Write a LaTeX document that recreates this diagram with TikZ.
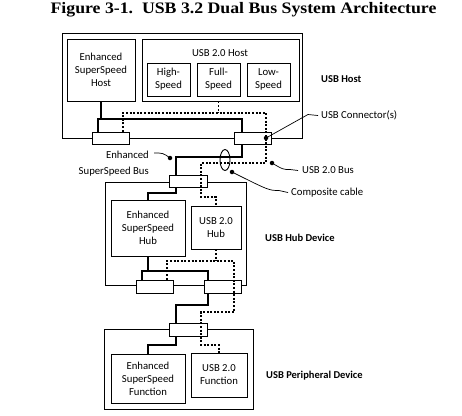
\documentclass[tikz,border=0pt]{standalone}
\usepackage{graphicx}
\usepackage{fontspec}
\setmainfont{Carlito}
\newfontfamily\titlefont{Liberation Serif}
\usetikzlibrary{positioning}
\usetikzlibrary{shapes.geometric}
\tikzset{
  box/.style={draw, line width=0.9pt, inner sep=0pt, align=center, font=\fontsize{10.7}{13}\selectfont},
  conn/.style={draw, fill=white, line width=0.9pt, inner sep=0pt, minimum width=37pt, minimum height=12pt},
  ssline/.style={line width=1.7pt},
  hsline/.style={line width=1.5pt, dash pattern=on 2pt off 1.6pt},
  leader/.style={line width=0.7pt},
  dot/.style={circle, fill, inner sep=0pt, minimum size=4.5pt},
  txt/.style={font=\fontsize{10.7}{13}\selectfont, inner sep=0pt},
  btxt/.style={font=\bfseries\fontsize{10.5}{13}\selectfont, inner sep=0pt},
}

\begin{document}
\begin{tikzpicture}[x=1pt,y=-1pt]
\useasboundingbox (0,0) rectangle (462,415);
\node[font=\titlefont\bfseries\fontsize{16}{18}\selectfont, inner sep=0pt] (title) at (243.5,10) {\scalebox{1.11}[1]{Figure 3-1.\ \ USB 3.2 Dual Bus System Architecture}};

% USB host
\node[box, minimum width=240pt, minimum height=105pt] (host) at (182,85.5) {};
\node[box, minimum width=68pt, minimum height=62pt] (esshost) at (101,70) {Enhanced\\SuperSpeed\\Host};
\node[box, minimum width=157pt, minimum height=62pt] (usb2host) at (220.5,70) {};
\node[txt] (usb2hostlbl) at (220,53) {USB 2.0 Host};
\node[box, minimum width=43pt, minimum height=33pt] (hispeed) at (168.5,79.5) {High-\\Speed};
\node[box, minimum width=43pt, minimum height=33pt] (fullspeed) at (218.5,79.5) {Full-\\Speed};
\node[box, minimum width=43pt, minimum height=33pt] (lowspeed) at (268.5,79.5) {Low-\\Speed};

% USB hub
\node[box, minimum width=141pt, minimum height=103pt] (hub) at (175.5,233.5) {};
\node[box, minimum width=74pt, minimum height=56pt] (esshub) at (148,228) {Enhanced\\SuperSpeed\\Hub};
\node[box, minimum width=50pt, minimum height=43pt] (usb2hub) at (216,227.5) {USB 2.0\\Hub};

% USB peripheral
\node[box, minimum width=149pt, minimum height=80pt] (periph) at (178.5,369) {};
\node[box, minimum width=74pt, minimum height=49pt] (essfn) at (148,378.5) {Enhanced\\SuperSpeed\\Function};
\node[box, minimum width=56pt, minimum height=44pt] (usb2fn) at (219,375) {USB 2.0\\Function};

% bends
\coordinate (sbL) at (98,119);
\coordinate (sbR) at (242,119);
\coordinate (cs1) at (242,157);
\coordinate (cs2) at (176,157);
\coordinate (hs1) at (176,193);
\coordinate (hs2) at (148,193);
\coordinate (hbL) at (142,271);
\coordinate (hbR) at (208,271);
\coordinate (ps1) at (208,305);
\coordinate (ps2) at (176,305);
\coordinate (fs1) at (176,345);
\coordinate (fs2) at (148,345);
\coordinate (dbL) at (123,113);
\coordinate (dbR) at (266,113);
\coordinate (cd1) at (266,163);
\coordinate (cd2) at (201,163);
\coordinate (hd1) at (201,197);
\coordinate (hd2) at (216,197);
\coordinate (db2L) at (167,261);
\coordinate (db2R) at (234,261);
\coordinate (pd1) at (234,312);
\coordinate (pd2) at (201,312);
\coordinate (fd1) at (201,345);
\coordinate (fd2) at (219,345);

% enhanced superspeed bus
\draw[ssline] (esshost.south) -- (esshost.south |- sbL);
\draw[ssline] (sbL |- 0,132) -- (sbL) -- (sbR) -- (sbR |- 0,132);
\draw[ssline] (cs1 |- 0,144) -- (cs1) -- (cs2) -- (cs2 |- 0,176);
\draw[ssline] (hs1 |- 0,187) -- (hs1) -- (hs2) -- (esshub.north -| hs2);
\draw[ssline] (esshub.south) -- (esshub.south |- hbL);
\draw[ssline] (hbL |- 0,280) -- (hbL) -- (hbR) -- (hbR |- 0,280);
\draw[ssline] (ps1 |- 0,293) -- (ps1) -- (ps2) -- (ps2 |- 0,323);
\draw[ssline] (fs1 |- 0,336) -- (fs1) -- (fs2) -- (essfn.north -| fs2);

% connectors
\node[conn] (hconL) at (110.5,138) {};
\node[conn] (hconR) at (252.5,138) {};
\node[conn, minimum width=38pt] (uconH) at (188,181.5) {};
\node[conn, minimum height=13pt] (dconL) at (154.5,286.5) {};
\node[conn, minimum height=13pt] (dconR) at (222.5,286.5) {};
\node[conn, minimum width=38pt, minimum height=13pt] (pcon) at (188,329.5) {};

% usb 2.0 bus
\draw[hsline] (usb2host.south -| fullspeed) -- (dbL -| fullspeed);
\draw[hsline] (hconL.north -| dbL) -- (dbL) -- (dbR) -- (cd1) -- (cd2) -- (hd1) -- (hd2) -- (usb2hub.north -| hd2);
\draw[hsline] (usb2hub.south) -- (usb2hub.south |- db2L);
\draw[hsline] (dconL.north -| db2L) -- (db2L) -- (db2R) -- (pd1) -- (pd2) -- (fd1) -- (fd2) -- (usb2fn.north -| fd2);

\node[draw, ellipse, line width=0.9pt, inner sep=0pt, minimum width=10pt, minimum height=21pt] (cable) at (225,160) {};

% labels
\node[btxt, anchor=west] (lhost) at (321,79) {USB Host};
\node[txt, anchor=west] (lconn) at (321,115.5) {USB Connector(s)};
\node[txt, anchor=west] (lbus) at (302,170.5) {USB 2.0 Bus};
\node[txt, anchor=west] (lcomp) at (291,192.5) {Composite cable};
\node[btxt, anchor=west] (lhub) at (265,238) {USB Hub Device};
\node[btxt, anchor=west] (lperiph) at (266,376) {USB Peripheral Device};
\node[txt, align=right, anchor=east] (lssbus) at (149,164) {Enhanced\\[3pt]SuperSpeed Bus};

\node[dot] (dconn) at (266,138) {};
\node[dot] (dbus) at (272,163) {};
\node[dot] (dcomp) at (232,172) {};
\node[dot] (dss) at (170,158) {};
\coordinate (kconn) at (308,114.5);
\coordinate (kbus) at (290,169.5);
\coordinate (kcomp) at (279,190.5);
\coordinate (kss) at (154,153);
\draw[leader] (dconn.center) -- (kconn) -- ([xshift=-3pt]lconn.west);
\draw[leader] (dbus.center) .. controls (283,169.5) .. (kbus) -- ([xshift=-4pt]lbus.west);
\draw[leader] (dcomp.center) .. controls (269,190.5) .. (kcomp) -- ([xshift=-3pt]lcomp.west);
\draw[leader] (dss.center) .. controls (163,153) .. (kss);

\end{tikzpicture}
\end{document}
